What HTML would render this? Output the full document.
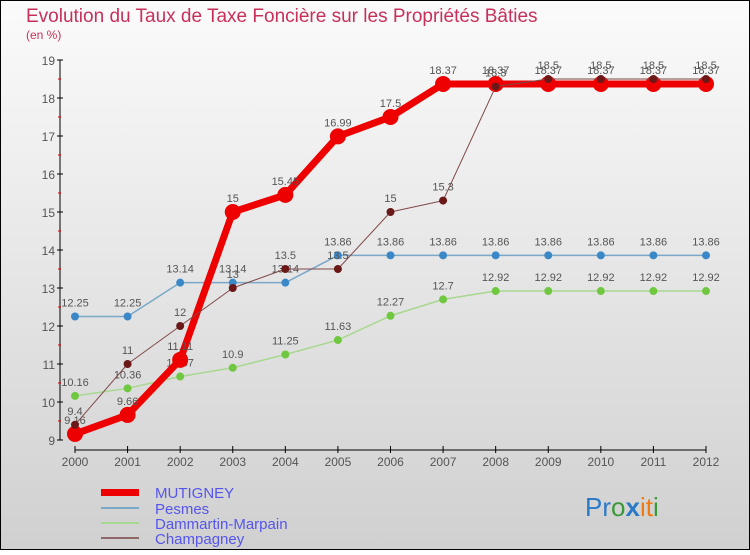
<!DOCTYPE html>
<html><head><meta charset="utf-8"><style>
body{margin:0}
svg text{font-family:"Liberation Sans",sans-serif}
</style></head><body>
<svg id="c" width="750" height="550" xmlns="http://www.w3.org/2000/svg">
<defs><linearGradient id="bg" x1="0" y1="0" x2="0" y2="1"><stop offset="0" stop-color="#fbfbfb"/><stop offset="1" stop-color="#d0d0d0"/></linearGradient></defs>
<rect x="0.5" y="0.5" width="749" height="549" fill="url(#bg)" stroke="#000"/>
<text x="26" y="22" font-size="19" fill="#c8305a">Evolution du Taux de Taxe Foncière sur les Propriétés Bâties</text>
<text x="26" y="39" font-size="12" fill="#c8305a">(en %)</text>
<g id="axes"></g><g id="series"></g>
<g>
<rect x="101" y="489" width="38" height="7" fill="#e00"/>
<text x="155" y="498" font-size="15" fill="#5555ee">MUTIGNEY</text>
<rect x="101" y="507" width="38" height="2" fill="#7aa8c8"/><text x="155" y="514" font-size="15" fill="#5555ee">Pesmes</text>
<rect x="101" y="522" width="38" height="2" fill="#a8d890"/><text x="155" y="529" font-size="15" fill="#5555ee">Dammartin-Marpain</text>
<rect x="101" y="537" width="38" height="2" fill="#906868"/><text x="155" y="544" font-size="15" fill="#5555ee">Champagney</text>
</g>
<text x="585" y="516" font-size="26"><tspan fill="#2a7ac8">Pr</tspan><tspan fill="#3a9a3a">o</tspan><tspan fill="#2a7ac8" font-weight="bold">x</tspan><tspan fill="#f07a10">i</tspan><tspan fill="#f07a10">t</tspan><tspan fill="#3a9a3a">i</tspan></text>
</svg>
<script>
const years=["2000","2001","2002","2003","2004","2005","2006","2007","2008","2009","2010","2011","2012"];
const yTicks=[9,10,11,12,13,14,15,16,17,18,19];
const mutigney=[9.16,9.66,11.11,15,15.45,16.99,17.5,18.37,18.37,18.37,18.37,18.37,18.37];
const pesmes=[12.25,12.25,13.14,13.14,13.14,13.86,13.86,13.86,13.86,13.86,13.86,13.86,13.86];
const dammartin=[10.16,10.36,10.67,10.9,11.25,11.63,12.27,12.7,12.92,12.92,12.92,12.92,12.92];
const champagney=[9.4,11,12,13,13.5,13.5,15,15.3,18.3,18.5,18.5,18.5,18.5];
const NS="http://www.w3.org/2000/svg";
const X=i=>75+i*(706-75)/(years.length-1);
const Y=v=>440-(v-9)*38;
function mk(t,a,p){const e=document.createElementNS(NS,t);for(const k in a)e.setAttribute(k,a[k]);p.appendChild(e);return e;}
const ax=document.getElementById('axes');
const yl=mk('line',{x1:60,y1:60,x2:60,y2:440,stroke:'#000'},ax);


const xl=mk('line',{x1:75,y1:450,x2:706,y2:450,stroke:'#000'},ax);


yTicks.forEach(v=>{mk('line',{x1:57,y1:Y(v),x2:63,y2:Y(v),stroke:'#000'},ax);
if(v<19)mk('line',{x1:58,y1:Y(v+0.5),x2:61,y2:Y(v+0.5),stroke:'#d00'},ax);
const t=mk('text',{x:55,y:Y(v)+5,'font-size':12,fill:'#555','text-anchor':'end'},ax);t.textContent=v;

});
years.forEach((y,i)=>{mk('line',{x1:X(i),y1:446,x2:X(i),y2:453,stroke:'#000'},ax);
const t=mk('text',{x:X(i),y:466,'font-size':12,fill:'#555','text-anchor':'middle'},ax);t.textContent=y;

});
const sg=document.getElementById('series');
function series(d,name,col,dot,w,r){const g=mk('g',{},sg);


mk('polyline',{points:d.map((v,i)=>X(i)+','+Y(v)).join(' '),fill:'none',stroke:col,'stroke-width':w,'stroke-linejoin':'round'},g);
d.forEach((v,i)=>{const c=mk('circle',{cx:X(i),cy:Y(v),r:r,fill:dot},g);


const t=mk('text',{x:X(i),y:Y(v)-10,'font-size':11,fill:'#555','text-anchor':'middle'},g);t.textContent=v;

});}
series(pesmes,'pesmes','#7aa8c8','#3a88c8',1.5,4);
series(dammartin,'dammartin','#a8d890','#70c840',1.5,4);
series(mutigney,'mutigney','#ee0000','#ee0000',7,8);
series(champagney,'champagney','#804848','#6a1818',1,4);
</script>
</body></html>
